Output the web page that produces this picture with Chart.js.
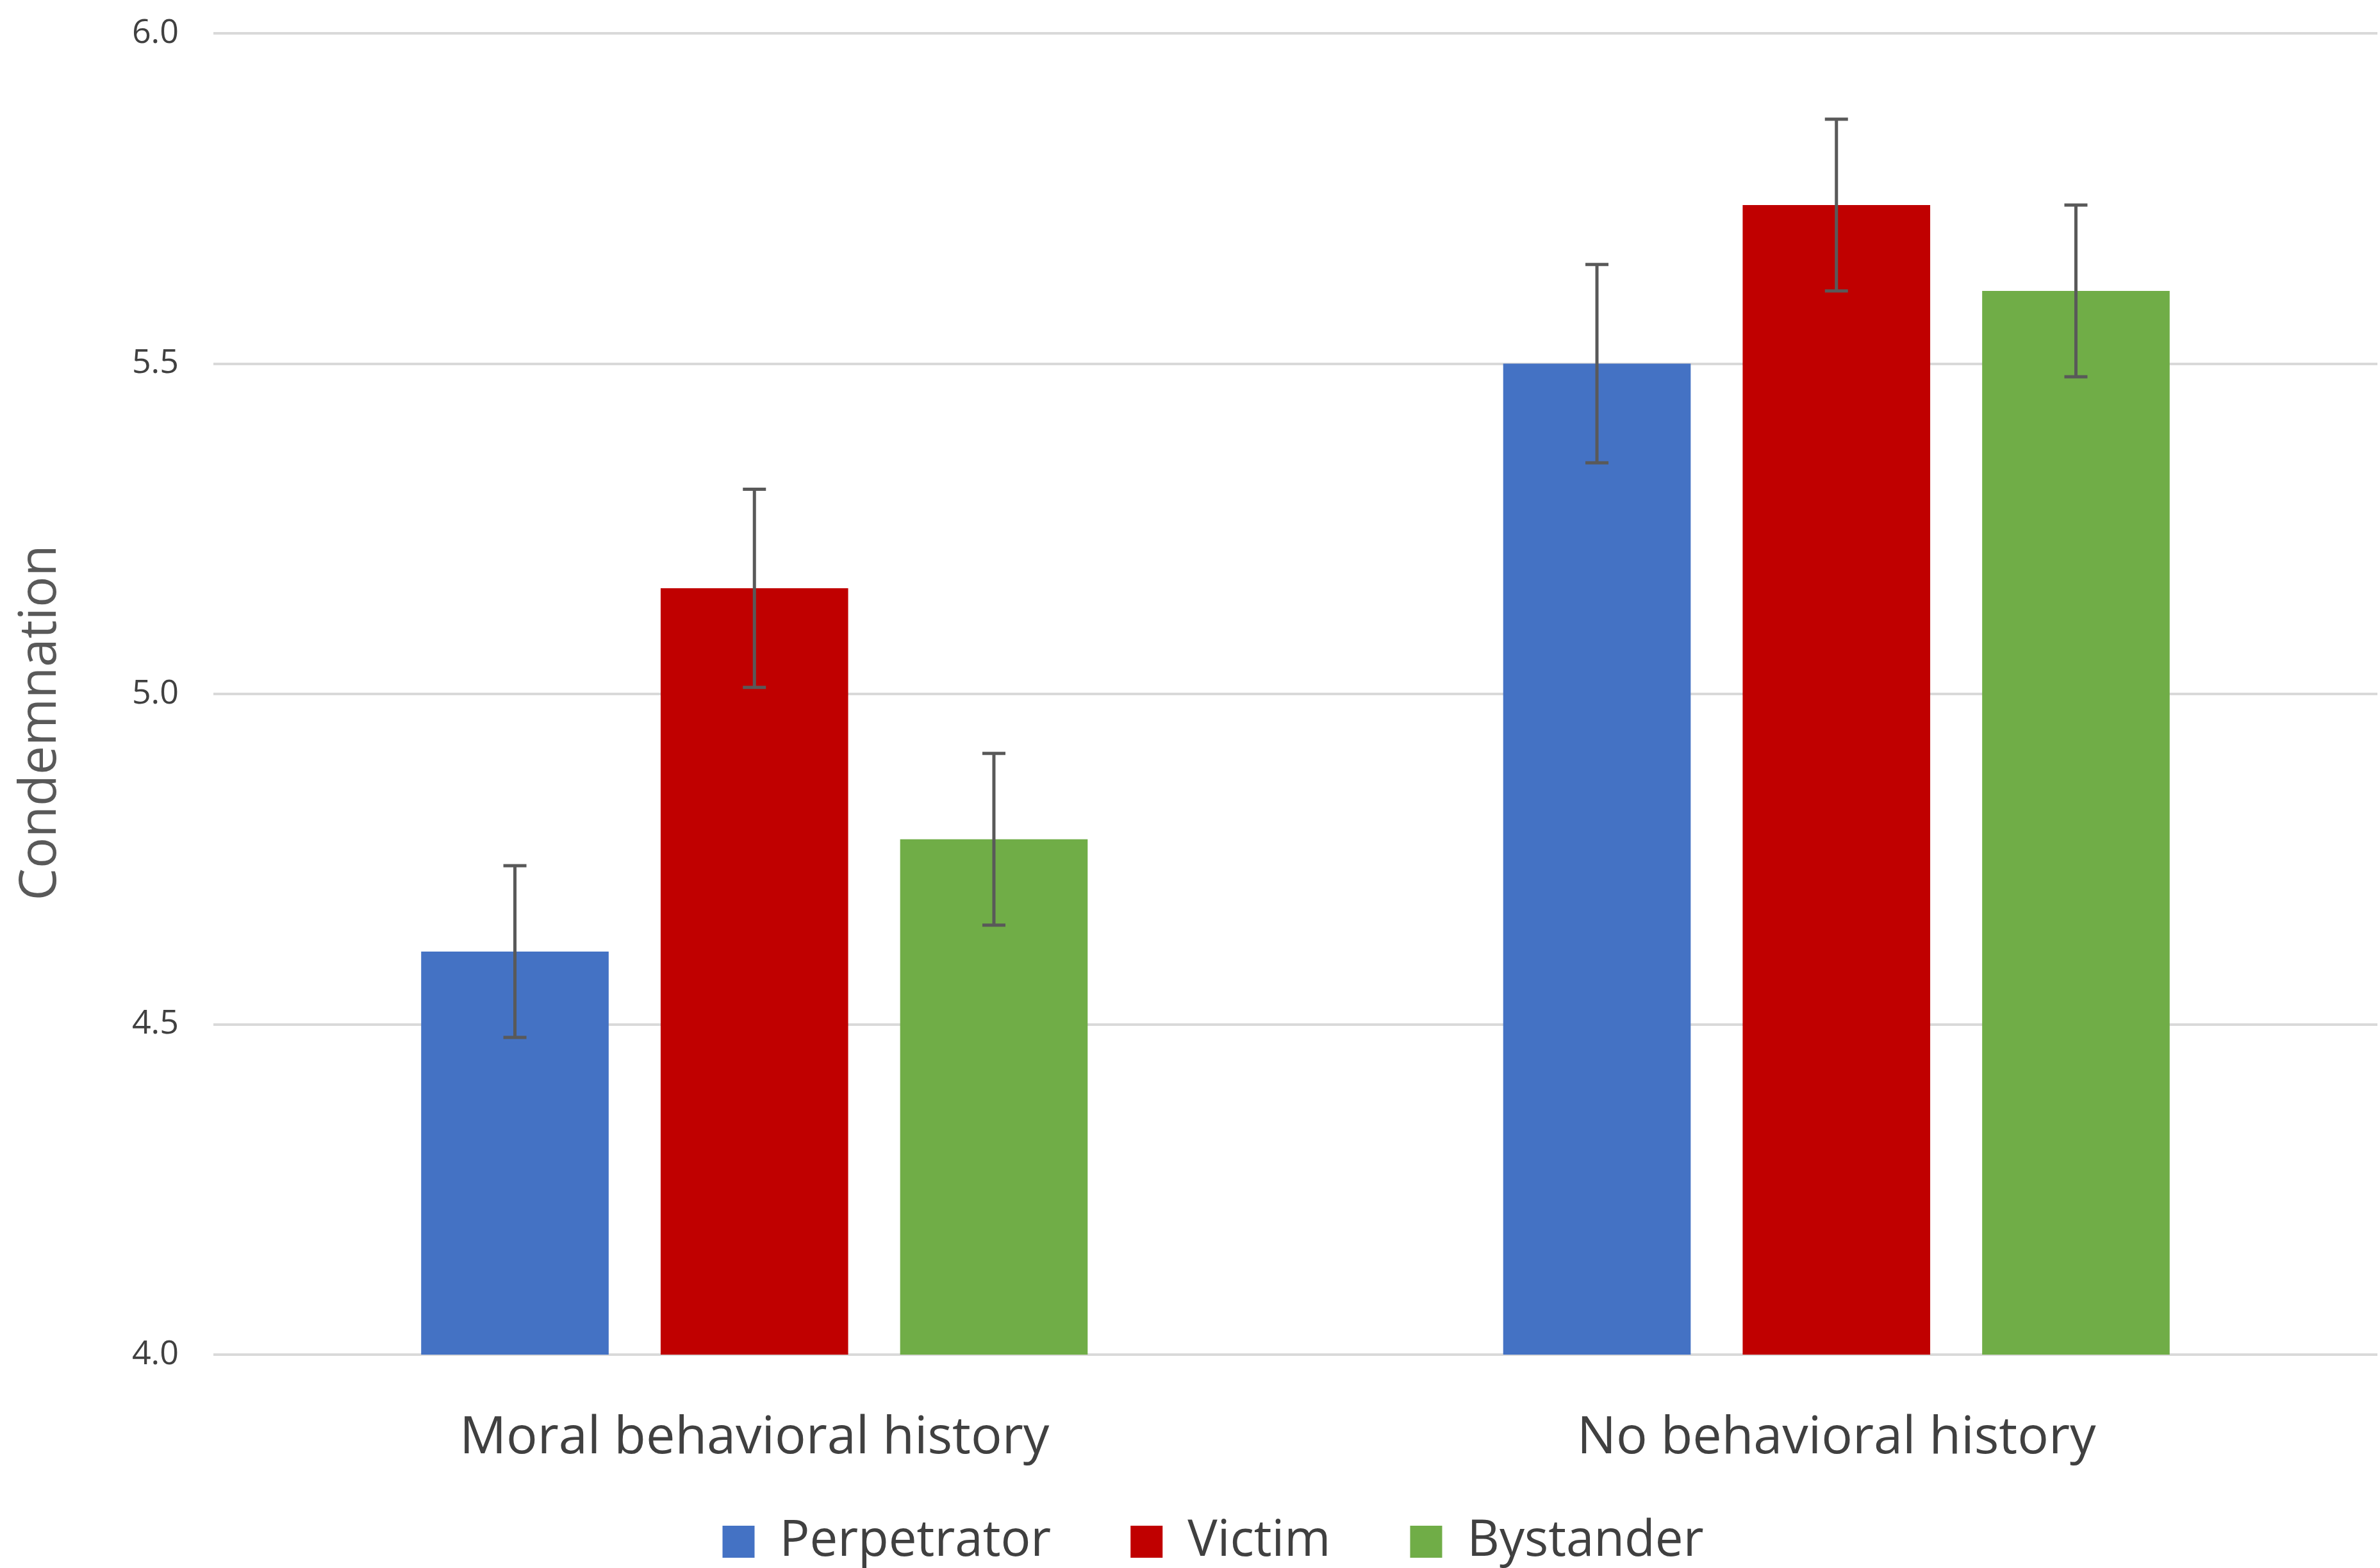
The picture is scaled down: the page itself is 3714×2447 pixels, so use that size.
<!DOCTYPE html>
<html>
<head>
<meta charset="utf-8">
<script src="https://cdn.jsdelivr.net/npm/chart.js@4"></script>
<style>
  html, body { margin: 0; padding: 0; background: #fff; overflow: hidden; }
  #wrap { width: 3714px; height: 2447px; position: relative; }
</style>
</head>
<body>
<div id="wrap"><canvas id="chart"></canvas></div>
<script>
const categories = ["Moral behavioral history", "No behavioral history"],
    seriesNames = ["Perpetrator", "Victim", "Bystander"],
    perpetrator = [4.61, 5.50],
    victim = [5.16, 5.74],
    bystander = [4.78, 5.61],
    perpetratorErr = [0.13, 0.15],
    victimErr = [0.15, 0.13],
    bystanderErr = [0.13, 0.13],
    yTicks = [4.0, 4.5, 5.0, 5.5, 6.0];

const colors = ["#4472C4", "#C00000", "#70AD47"],
    textColor = "#404040",
    font = "'Open Sans', 'Noto Sans', sans-serif";

const values = [perpetrator, victim, bystander],
    errors = [perpetratorErr, victimErr, bystanderErr];

const legendGap = 124,   // horizontal gap between legend items
    legendHeight = 84,   // space kept for the legend row
    legendShiftX = 38,   // legend sits a bit right of centre
    titleShiftY = 45;    // y title sits a bit below the plot centre

// error bars drawn from the y scale
const errorBars = {
    id: 'errorBars',
    afterDatasetsDraw(chart) {
        const c = chart.ctx,
            y = chart.scales.y;
        c.save();
        c.strokeStyle = "#595959";
        c.lineWidth = 5;
        chart.data.datasets.forEach((ds, d) => {
            const meta = chart.getDatasetMeta(d);
            meta.data.forEach((bar, i) => {
                const v = ds.data[i],
                    e = ds.errors[i],
                    top = y.getPixelForValue(v + e),
                    bot = y.getPixelForValue(v - e),
                    half = 18;
                c.beginPath();
                c.moveTo(bar.x, top);
                c.lineTo(bar.x, bot);
                c.moveTo(bar.x - half, top);
                c.lineTo(bar.x + half, top);
                c.moveTo(bar.x - half, bot);
                c.lineTo(bar.x + half, bot);
                c.stroke();
            });
        });
        c.restore();
    }
};

// the legend padding sets both the item gap and the row height,
// so keep the row short in the layout and grow the box upward after
const legendRow = {
    id: 'legendRow',
    beforeLayout(chart) {
        const lg = chart.legend;
        if (lg && !lg._shortFit) {
            const fit = lg.fit;
            lg.fit = function () {
                fit.call(this);
                this.height = legendHeight;
            };
            lg._shortFit = true;
        }
    },
    afterLayout(chart) {
        const lg = chart.legend;
        if (lg) {
            lg.top -= legendGap - (legendHeight - 76) / 2;
            lg.left += legendShiftX;
            lg.right += legendShiftX;
        }
        // move only the y title down, not the scale itself
        const y = chart.scales.y;
        if (y && !y._titleShift) {
            const drawTitle = y.drawTitle;
            y.drawTitle = function () {
                this.top += titleShiftY;
                this.bottom += titleShiftY;
                drawTitle.call(this);
                this.top -= titleShiftY;
                this.bottom -= titleShiftY;
            };
            y._titleShift = true;
        }
    }
};

new Chart(document.getElementById("chart"), {
    type: 'bar',
    data: {
        labels: categories,
        datasets: seriesNames.map((name, i) => ({
            label: name,
            data: values[i],
            errors: errors[i],
            backgroundColor: colors[i],
            borderWidth: 0,
            categoryPercentage: 0.664,
            barPercentage: 0.783
        }))
    },
    options: {
        responsive: true,
        maintainAspectRatio: false,
        devicePixelRatio: 1,
        animation: false,
        layout: {
            padding: { top: 52, right: 4, left: 0, bottom: 0 }
        },
        plugins: {
            legend: {
                position: 'bottom',
                labels: {
                    boxWidth: 50,
                    boxHeight: 50,
                    padding: legendGap,
                    color: textColor,
                    font: { family: font, size: 78 }
                }
            },
            tooltip: { enabled: false }
        },
        scales: {
            x: {
                grid: { display: false },
                border: { display: false },
                ticks: {
                    color: textColor,
                    padding: 74,
                    font: { family: font, size: 81 }
                },
                afterFit: (scale) => { scale.height = 249; }
            },
            y: {
                min: 4,
                max: 6,
                afterBuildTicks: (scale) => {
                    scale.ticks = yTicks.map(v => ({ value: v }));
                },
                grid: {
                    color: "#d9d9d9",
                    lineWidth: 4,
                    drawTicks: false
                },
                border: { display: false },
                ticks: {
                    color: textColor,
                    padding: 54,
                    font: { family: font, size: 52 },
                    callback: (v) => Number(v).toFixed(1)
                },
                title: {
                    display: true,
                    text: "Condemnation",
                    color: "#595959",
                    padding: { top: 16, bottom: 0 },
                    font: { family: font, size: 80 }
                },
                afterFit: (scale) => {
                    scale.width = 333;
                    scale.paddingTop = 0;
                    scale.paddingBottom = 0;
                }
            }
        }
    },
    plugins: [errorBars, legendRow]
});
</script>
</body>
</html>
